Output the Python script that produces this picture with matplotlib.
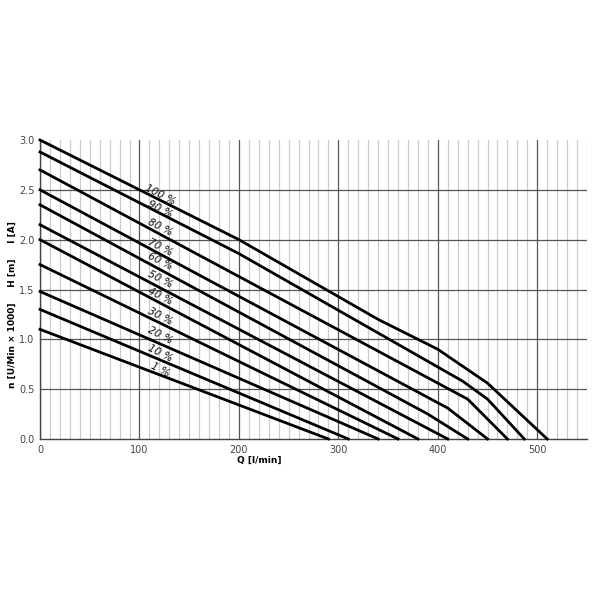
import matplotlib
matplotlib.use("Agg")
import matplotlib.pyplot as plt
from matplotlib.ticker import MultipleLocator

# Data: pump curves (Q [l/min], head value) for each speed percentage
labels = ["100 %", "90 %", "80 %", "70 %", "60 %", "50 %", "40 %", "30 %", "20 %", "10 %", "1 %"]

q_100 = [0, 200, 340, 400, 450, 510]
h_100 = [3.0, 2.0, 1.2, 0.9, 0.56, 0.0]
q_90 = [0, 200, 425, 450, 487]
h_90 = [2.88, 1.86, 0.58, 0.40, 0.0]
q_80 = [0, 430, 470]
h_80 = [2.70, 0.40, 0.0]
q_70 = [0, 410, 450]
h_70 = [2.50, 0.31, 0.0]
q_60 = [0, 390, 430]
h_60 = [2.35, 0.25, 0.0]
q_50 = [0, 410]
h_50 = [2.15, 0.0]
q_40 = [0, 380]
h_40 = [2.00, 0.0]
q_30 = [0, 360]
h_30 = [1.75, 0.0]
q_20 = [0, 340]
h_20 = [1.48, 0.0]
q_10 = [0, 310]
h_10 = [1.30, 0.0]
q_1 = [0, 290]
h_1 = [1.10, 0.0]

curves = [(q_100, h_100), (q_90, h_90), (q_80, h_80), (q_70, h_70), (q_60, h_60),
          (q_50, h_50), (q_40, h_40), (q_30, h_30), (q_20, h_20), (q_10, h_10), (q_1, h_1)]

label_q = [121] * 11
label_h = [2.45, 2.30, 2.12, 1.92, 1.78, 1.60, 1.43, 1.23, 1.04, 0.86, 0.69]

x_ticks = [0, 100, 200, 300, 400, 500]
y_ticks = [0.0, 0.5, 1.0, 1.5, 2.0, 2.5, 3.0]
h_grid = [0.5, 1.0, 1.5, 2.0, 2.5]

fig = plt.figure(figsize=(6, 6), dpi=100)
ax = fig.add_axes([40 / 600, 1 - 439 / 600, 547 / 600, 299 / 600])

ax.set_xlim(0, 550)
ax.set_ylim(0, 3.0)
ax.set_xticks(x_ticks)
ax.set_yticks(y_ticks)
ax.set_yticklabels([f"{v:.1f}" for v in y_ticks])
ax.xaxis.set_minor_locator(MultipleLocator(10))

ax.grid(which="minor", axis="x", color="#cccccc", linewidth=0.9)
ax.grid(which="major", axis="x", color="#555555", linewidth=0.9)
for yv in h_grid:
    ax.axhline(yv, color="#555555", linewidth=0.9, zorder=1)
ax.set_axisbelow(True)

for s in ["top", "right"]:
    ax.spines[s].set_visible(False)
for s in ["left", "bottom"]:
    ax.spines[s].set_color("#444444")
    ax.spines[s].set_linewidth(1.0)

ax.tick_params(which="both", length=0, labelsize=7, colors="#444444", pad=4)

for (q, h) in curves:
    ax.plot(q, h, color="black", linewidth=2.0, solid_joinstyle="miter", clip_on=False, zorder=3)

for lab, xq, yh in zip(labels, label_q, label_h):
    ax.text(xq, yh, lab, fontsize=7.5, style="italic", rotation=-27,
            ha="center", va="center", color="#111111", rotation_mode="anchor", zorder=4)

ax.set_xlabel("Q [l/min]", fontsize=6.5, fontweight="bold", labelpad=6)
ax.xaxis.set_label_coords(0.40, -0.055)
ax.set_ylabel("n [U/Min × 1000]     H [m]     I [A]", fontsize=6.5, fontweight="bold")
ax.yaxis.set_label_coords(-0.043, 0.45)

fig.savefig("out.png", dpi=100, facecolor="white")
